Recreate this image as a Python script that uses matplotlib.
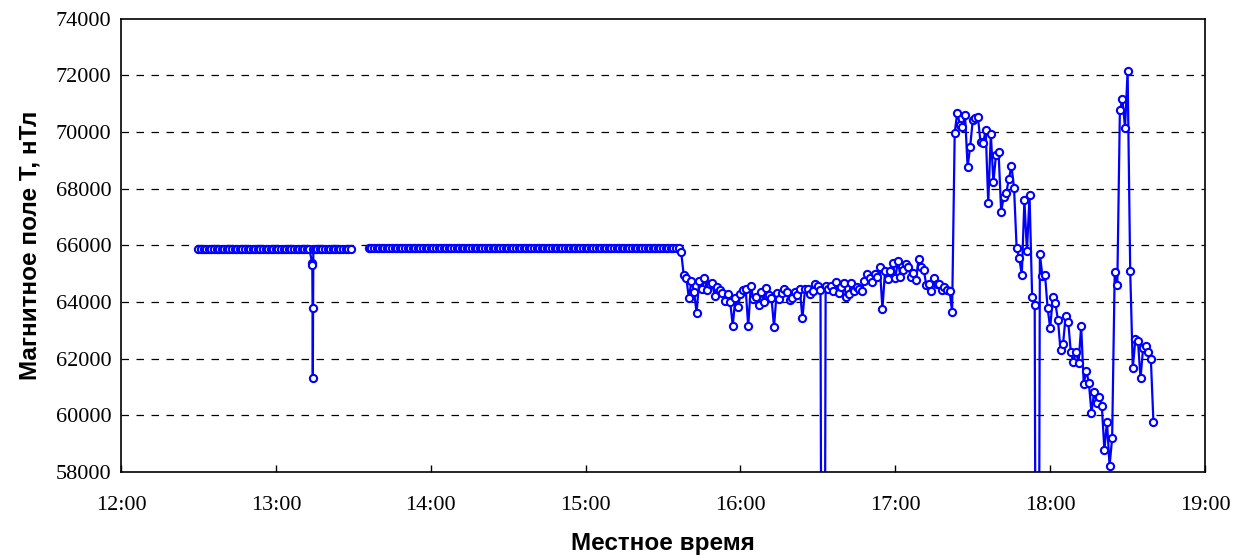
import matplotlib.pyplot as plt
import numpy as np

# Data: time in minutes since midnight, field in nT
flat1_level = 65860
flat1_minutes = list(range(750, 794)) + [794.5] + list(range(795, 810))
dip_minutes = [794.0, 794.1, 794.2, 794.3]
dip_values = [65390, 65300, 63800, 61330]

flat2_level = 65900
flat2_minutes = list(range(816, 937))

# one reading per minute starting 15:37
var_start = 937
var_values = [
    65775, 64950, 64860, 64130, 64740, 64360, 63620, 64740, 64450, 64840,
    64420, 64630, 64680, 64220, 64540, 64420, 64300, 64030, 64280, 64010,
    63160, 64130, 63810, 64270, 64420, 64470, 63140, 64580, 64100, 64190,
    63890, 64340, 64010, 64490, 64250, 64150, 63120, 64330, 64100, 64330,
    64470, 64360, 64070, 64130, 64360, 64240, 64450, 63420, 64450, 64450,
    64280, 64390, 64630, 64580, 64420, 30000, 64560, 64450, 64580, 64400,
    64690, 64300, 64540, 64660, 64190, 64280, 64680, 64400, 64520, 64460,
    64400, 64750, 64980, 64840, 64710, 64980, 64890, 65220, 63750, 65090,
    64800, 65090, 65390, 64840, 65460, 64890, 65130, 65340, 65250, 64890,
    65010, 64780, 65520, 65250, 65130, 64600, 64630, 64390, 64840, 64630,
    64620, 64420, 64520, 64420, 64400, 63660, 69970, 70680, 70250, 70190,
    70600, 68770, 69480, 70420, 70480, 70520, 69630, 69600, 70070, 67480,
    69920, 68230, 69190, 69290, 67190, 67700, 67860, 68350, 68800, 68010,
    65890, 65560, 64950, 67580, 65790, 67770, 64190, 63890, 30000, 65690,
    64900, 64950, 63780, 63080, 64170, 63950, 63370, 62290, 62530, 63520,
    63280, 62220, 61890, 62250, 61860, 63140, 61110, 61580, 61130, 60090,
    60810, 60450, 60660, 60340, 58780, 59780, 58220, 59190, 65060, 64600,
    70770, 71150, 70140, 72150, 65100, 61660, 62680, 62630, 61300, 62370,
    62450, 62230, 61990, 59760,
]

x_ticks = [12, 13, 14, 15, 16, 17, 18, 19]
x_tick_labels = ['12:00', '13:00', '14:00', '15:00', '16:00', '17:00', '18:00', '19:00']
y_ticks = [58000, 60000, 62000, 64000, 66000, 68000, 70000, 72000, 74000]


def build_series():
    # first block with the short dip around 13:14
    t1 = np.array(flat1_minutes + dip_minutes, dtype=float)
    v1 = np.array([flat1_level] * len(flat1_minutes) + dip_values, dtype=float)
    order = np.argsort(t1)
    t1, v1 = t1[order], v1[order]

    # second block: flat part then the disturbed part
    var_minutes = list(range(var_start, var_start + len(var_values)))
    t2 = np.array(flat2_minutes + var_minutes, dtype=float)
    v2 = np.array([flat2_level] * len(flat2_minutes) + var_values, dtype=float)
    return (t1 / 60.0, v1), (t2 / 60.0, v2)


def main():
    fig = plt.figure(figsize=(12.39, 5.58), dpi=100)
    ax = fig.add_axes([0.0977, 0.1541, 0.8749, 0.8127])

    style = dict(color='#0000FF', lw=1.6, marker='o', ms=5.2,
                 mfc='white', mec='#0000FF', mew=1.5)
    for t, v in build_series():
        ax.plot(t, v, **style)

    ax.set_xlim(12, 19)
    ax.set_ylim(58000, 74000)
    ax.set_xticks(x_ticks)
    ax.set_xticklabels(x_tick_labels)
    ax.set_yticks(y_ticks)

    for y in y_ticks[1:-1]:
        ax.axhline(y, color='black', lw=0.9, ls=(0, (6, 6)), zorder=0)

    for lab in ax.get_xticklabels() + ax.get_yticklabels():
        lab.set_fontfamily('Liberation Serif')
        lab.set_fontsize(16)
    ax.tick_params(axis='x', direction='in', length=5, width=1, pad=17)
    ax.tick_params(axis='y', direction='in', length=0, pad=7)

    for sp in ax.spines.values():
        sp.set_linewidth(1.2)
        sp.set_color('black')

    ax.set_xlabel('Местное время', fontsize=17.5, fontweight='bold',
                  family='Liberation Sans', va='center')
    ax.set_ylabel('Магнитное поле Т, нТл', fontsize=17.5, fontweight='bold',
                  family='Liberation Sans', va='center')
    ax.xaxis.set_label_coords(0.5, -0.157)
    ax.yaxis.set_label_coords(-0.084, 0.5)

    fig.savefig('out.png', dpi=100, facecolor='white')


if __name__ == "__main__":
    main()
